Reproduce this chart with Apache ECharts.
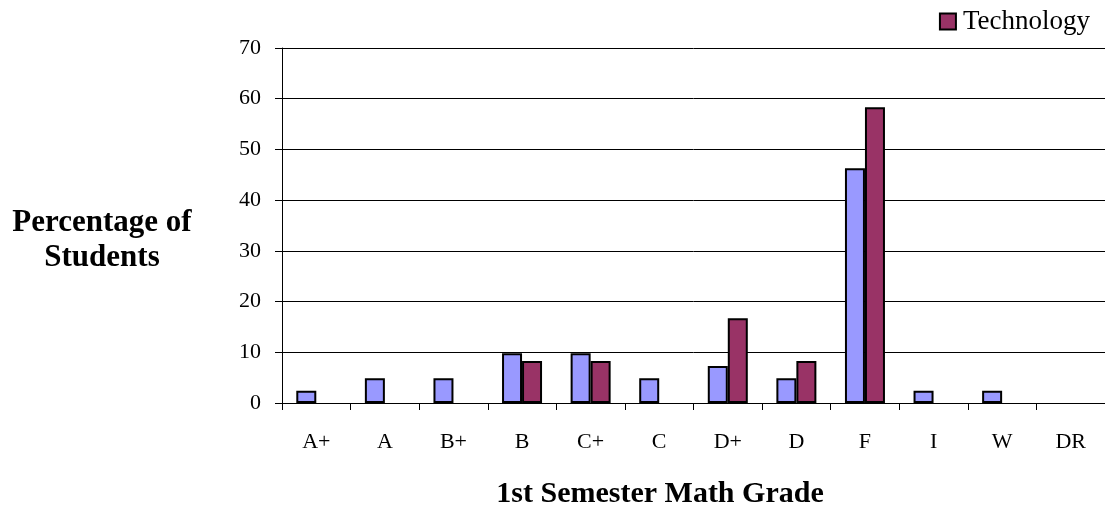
<!DOCTYPE html>
<html><head><meta charset="utf-8">
<script src="https://cdn.jsdelivr.net/npm/echarts@6/dist/echarts.min.js"></script>
<style>html,body{margin:0;padding:0;background:#fff}#c{width:1105px;height:512px}</style>
</head><body><div id="c"></div>
<script>
const categories = ['A+','A','B+','B','C+','C','D+','D','F','I','W','DR'];
const traditional = [2.4, 4.9, 4.9, 9.8, 9.8, 4.9, 7.3, 4.9, 46.3, 2.4, 2.4, 0];
const technology = [0, 0, 0, 8.3, 8.3, 0, 16.7, 8.3, 58.3, 0, 0, 0];
const yTicks = [0, 10, 20, 30, 40, 50, 60, 70];

const font = 'Liberation Serif';
const nz = arr => arr.map(v => v === 0 ? '-' : v);
const chart = echarts.init(document.getElementById('c'), null, {renderer: 'canvas'});
chart.setOption({
  animation: false,
  backgroundColor: '#fff',
  grid: {left: 282, right: 0, top: 48, height: 355, containLabel: false},
  legend: {
    data: ['Technology'], right: 10, top: 3, icon: 'rect', itemWidth: 16, itemHeight: 16, itemGap: 4,
    textStyle: {fontFamily: font, fontSize: 27, color: '#000', padding: [0, 0, 0, 2]},
    itemStyle: {borderColor: '#000', borderWidth: 2}
  },
  graphic: [{
    type: 'text', x: 102, y: 205,
    style: {text: 'Percentage of\nStudents', fontFamily: font, fontSize: 31, fontWeight: 'bold', fill: '#000',
      align: 'center', verticalAlign: 'top', lineHeight: 35}
  }, {
    type: 'text', x: 660, y: 479,
    style: {text: '1st Semester Math Grade', fontFamily: font, fontSize: 30, fontWeight: 'bold', fill: '#000',
      align: 'center', verticalAlign: 'top'}
  }],
  xAxis: {
    type: 'category', data: categories,
    axisLine: {lineStyle: {color: '#000', width: 1}},
    axisTick: {show: true, length: 7, inside: false, lineStyle: {color: '#000'}},
    axisLabel: {fontFamily: font, fontSize: 22, color: '#000', margin: 28}
  },
  yAxis: {
    type: 'value', min: 0, max: 70, interval: 10,
    axisLine: {show: true, lineStyle: {color: '#000', width: 1}},
    axisTick: {show: true, length: 7, lineStyle: {color: '#000'}},
    axisLabel: {fontFamily: font, fontSize: 22, color: '#000', margin: 21,
      formatter: v => yTicks.includes(v) ? String(v) : ''},
    splitLine: {show: true, lineStyle: {color: '#000', width: 1}}
  },
  series: [
    {name: 'Traditional', type: 'bar', data: nz(traditional), barWidth: 20, barGap: '0%',
     itemStyle: {color: '#9999FF', borderColor: '#000', borderWidth: 2}},
    {name: 'Technology', type: 'bar', data: nz(technology), barWidth: 20, barGap: '0%',
     itemStyle: {color: '#993366', borderColor: '#000', borderWidth: 2}}
  ]
});
</script></body></html>
